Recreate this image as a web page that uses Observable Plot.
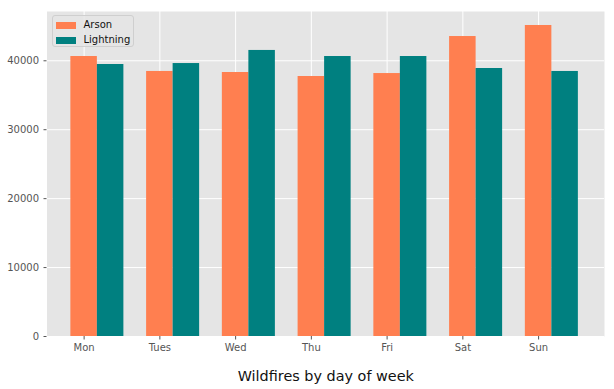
<!DOCTYPE html>
<html><head>
<meta charset="utf-8">
<script src="https://cdn.jsdelivr.net/npm/d3@7"></script>
<script src="https://cdn.jsdelivr.net/npm/@observablehq/plot@0.6"></script>
<style>
body{margin:0;background:#fff;}
#wrap{position:relative;width:614px;height:389px;font-family:"DejaVu Sans",sans-serif;}
#legend{position:absolute;left:51.5px;top:15px;width:82px;height:32px;box-sizing:border-box;border:1px solid #cfcfcf;border-radius:3px;background:rgba(229,229,229,0.8);font-size:10px;color:#111;}
#legend .row{position:absolute;left:3px;height:10px;line-height:10px;white-space:nowrap;}
#legend .sw{display:inline-block;width:20px;height:7px;vertical-align:middle;margin-right:8px;}
</style>
</head><body>
<div id="wrap"></div>
<script>
const days = ["Mon","Tues","Wed","Thu","Fri","Sat","Sun"];
const arson = [40620,38450,38300,37720,38150,43520,45120];
const lightning = [39460,39600,41500,40620,40620,38880,38450];
const seriesNames = ["Arson","Lightning"];
const seriesColors = ["#FF7F50","#008080"];
const yTicks = [0,10000,20000,30000,40000];
const barWidth = 0.35;

const rows = days.flatMap((d,i)=>[
  {day:d, i, s:0, series:"Arson", value:arson[i]},
  {day:d, i, s:1, series:"Lightning", value:lightning[i]}
]);

const chart = Plot.plot({
  width:614, height:389,
  marginLeft:46.5, marginRight:10, marginTop:11, marginBottom:53,
  style:{fontFamily:"DejaVu Sans", fontSize:"10px", background:"white"},
  x:{type:"linear", domain:[-0.49,6.87]},
  y:{domain:[0,47150]},
  color:{domain:seriesNames, range:seriesColors},
  marks:[
    Plot.frame({fill:"#E5E5E5", stroke:null}),
    Plot.gridY(yTicks, {stroke:"white", strokeOpacity:1, strokeWidth:1}),
    Plot.gridX(d3.range(days.length), {stroke:"white", strokeOpacity:1, strokeWidth:1}),
    Plot.rectY(rows, {
      x1: d => d.i + d.s*barWidth - barWidth/2,
      x2: d => d.i + d.s*barWidth + barWidth/2,
      y1: 0, y2: "value", fill:"series"
    }),
    Plot.axisY(yTicks, {tickSize:3, tickPadding:5, tickFormat:d=>String(d), stroke:"#555", color:"#555", label:null, fontSize:10}),
    Plot.axisX(d3.range(days.length), {tickSize:3.5, tickPadding:3.5, tickFormat:i=>days[i], stroke:"#555", color:"#555", label:null, fontSize:10}),
    Plot.text(["Wildfires by day of week"], {frameAnchor:"bottom", dy:40, lineAnchor:"middle", fontSize:14.4, fill:"#111"})
  ]
});
const wrap = document.getElementById("wrap");
wrap.appendChild(chart);

const leg = document.createElement("div");
leg.id = "legend";
seriesNames.forEach((n,k)=>{
  const r = document.createElement("div");
  r.className = "row";
  r.style.top = (k===0 ? 4 : 19) + "px";
  const sw = document.createElement("span");
  sw.className = "sw";
  sw.style.background = seriesColors[k];
  r.appendChild(sw);
  r.appendChild(document.createTextNode(n));
  leg.appendChild(r);
});
wrap.appendChild(leg);
</script>
</body></html>
